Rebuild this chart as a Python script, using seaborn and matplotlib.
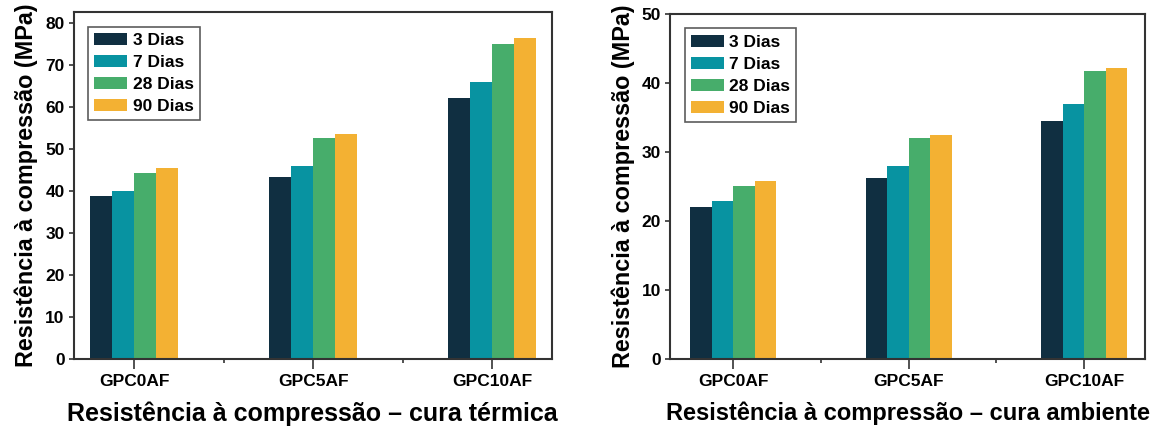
import matplotlib
matplotlib.use("Agg")
import matplotlib.pyplot as plt
import seaborn as sns
import pandas as pd
from matplotlib.ticker import FixedLocator

# ---- data ----
groups = ["GPC0AF", "GPC5AF", "GPC10AF"]
ages = ["3 Dias", "7 Dias", "28 Dias", "90 Dias"]
termica_3 = [38.7, 43.2, 62.0]
termica_7 = [40.0, 45.8, 65.9]
termica_28 = [44.3, 52.5, 75.0]
termica_90 = [45.4, 53.4, 76.3]
ambiente_3 = [22.0, 26.3, 34.5]
ambiente_7 = [22.9, 27.9, 36.9]
ambiente_28 = [25.1, 32.0, 41.8]
ambiente_90 = [25.8, 32.5, 42.2]
yticks_termica = [0, 10, 20, 30, 40, 50, 60, 70, 80]
yticks_ambiente = [0, 10, 20, 30, 40, 50]
colors = ["#102f41", "#0893a1", "#47ad6b", "#f3b133"]

def long_df(series):
    rows = []
    for age, vals in zip(ages, series):
        for g, v in zip(groups, vals):
            rows.append({"grupo": g, "idade": age, "valor": v})
    return pd.DataFrame(rows)

df_t = long_df([termica_3, termica_7, termica_28, termica_90])
df_a = long_df([ambiente_3, ambiente_7, ambiente_28, ambiente_90])

sns.set_style("white")
plt.rcParams["font.family"] = ["Liberation Sans", "DejaVu Sans"]
plt.rcParams["font.weight"] = "bold"
plt.rcParams["text.color"] = "black"
plt.rcParams["axes.labelcolor"] = "black"
plt.rcParams["xtick.color"] = "black"
plt.rcParams["ytick.color"] = "black"

fig = plt.figure(figsize=(11.62, 4.28), dpi=100)
ax1 = fig.add_axes([0.0633, 0.1612, 0.4118, 0.8107])
ax2 = fig.add_axes([0.5766, 0.1612, 0.4088, 0.8061])

panels = [
    (ax1, df_t, yticks_termica, (0, 82.5), "Resistência à compressão – cura térmica", (-0.338, 2.335), 18),
    (ax2, df_a, yticks_ambiente, (0, 50), "Resistência à compressão – cura ambiente", (-0.36, 2.347), 17),
]

for ax, df, yt, yl, xlab, xl, xfs in panels:
    sns.barplot(data=df, x="grupo", y="valor", hue="idade", order=groups,
                hue_order=ages, palette=colors, width=0.49, gap=0,
                saturation=1, errorbar=None, ax=ax, linewidth=0)
    ax.set_ylim(*yl)
    ax.set_xlim(*xl)
    ax.set_yticks(yt)
    ax.set_yticklabels([str(v) for v in yt], fontsize=12.5, fontweight="bold")
    ax.set_xticks(range(len(groups)))
    ax.set_xticklabels(groups, fontsize=12.5, fontweight="bold")
    ax.xaxis.set_minor_locator(FixedLocator([0.5, 1.5]))
    ax.tick_params(axis="y", which="major", direction="out", length=3.5,
                   width=1.2, color="#333333", left=True, pad=3)
    ax.tick_params(axis="x", which="major", direction="out", length=7,
                   width=1.2, color="#333333", bottom=True, pad=4)
    ax.tick_params(axis="x", which="minor", direction="out", length=3,
                   width=1.2, color="#333333", bottom=True)
    for s in ax.spines.values():
        s.set_visible(True)
        s.set_color("#333333")
        s.set_linewidth(1.5)
    ax.set_xlabel(xlab, fontsize=xfs, fontweight="bold", labelpad=9)
    ax.set_ylabel("Resistência à compressão (MPa)", fontsize=16.8, fontweight="bold", labelpad=5)
    leg = ax.legend(loc="upper left", bbox_to_anchor=(0.031, 0.958), borderaxespad=0,
                    frameon=True, fancybox=False, edgecolor="#333333",
                    prop={"size": 12.5, "weight": "bold"}, handlelength=1.9,
                    handleheight=0.75, handletextpad=0.3, labelspacing=0.38,
                    borderpad=0.35, title=None)
    leg.get_frame().set_linewidth(1.2)

fig.savefig("out.png", dpi=100)
